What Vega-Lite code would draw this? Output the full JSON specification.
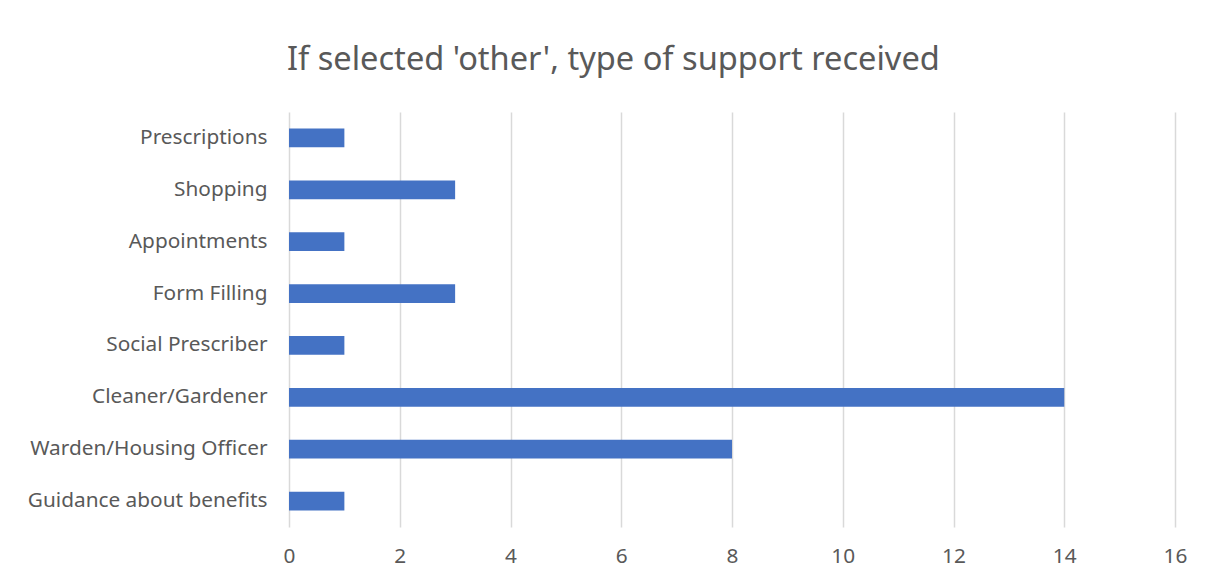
{
  "$schema": "https://vega.github.io/schema/vega-lite/v6.json",
  "width": 886,
  "height": 415,
  "autosize": {"type": "none"},
  "padding": {"left": 289, "top": 112, "right": 30, "bottom": 54},
  "background": "white",
  "title": {
    "text": "If selected 'other', type of support received",
    "anchor": "start",
    "frame": "group",
    "dx": -2,
    "offset": 42,
    "font": "Noto Sans",
    "fontSize": 32.6,
    "fontWeight": "normal",
    "color": "#595959",
    "baseline": "alphabetic",
    "dy": 33
  },
  "data": {
    "values": [
      {"category": "Prescriptions", "value": 1},
      {"category": "Shopping", "value": 3},
      {"category": "Appointments", "value": 1},
      {"category": "Form Filling", "value": 3},
      {"category": "Social Prescriber", "value": 1},
      {"category": "Cleaner/Gardener", "value": 14},
      {"category": "Warden/Housing Officer", "value": 8},
      {"category": "Guidance about benefits", "value": 1}
    ]
  },
  "mark": {"type": "bar", "color": "#4472C4"},
  "encoding": {
    "y": {
      "field": "category",
      "type": "nominal",
      "sort": null,
      "title": null,
      "scale": {"paddingInner": 0.64, "paddingOuter": 0.32},
      "axis": {
        "domain": false,
        "ticks": false,
        "grid": false,
        "labelFont": "Noto Sans",
        "labelFontSize": 20.8,
        "labelColor": "#595959",
        "labelPadding": 22,
        "labelLimit": 400
      }
    },
    "x": {
      "field": "value",
      "type": "quantitative",
      "title": null,
      "scale": {"domain": [0, 16], "nice": false},
      "axis": {
        "values": [0, 2, 4, 6, 8, 10, 12, 14, 16],
        "domain": false,
        "ticks": false,
        "grid": true,
        "gridColor": "#d9d9d9",
        "gridWidth": 1.5,
        "labelFlush": false,
        "labelFont": "Noto Sans",
        "labelFontSize": 20.8,
        "labelColor": "#595959",
        "labelPadding": 19
      }
    }
  },
  "config": {"view": {"stroke": null}}
}
